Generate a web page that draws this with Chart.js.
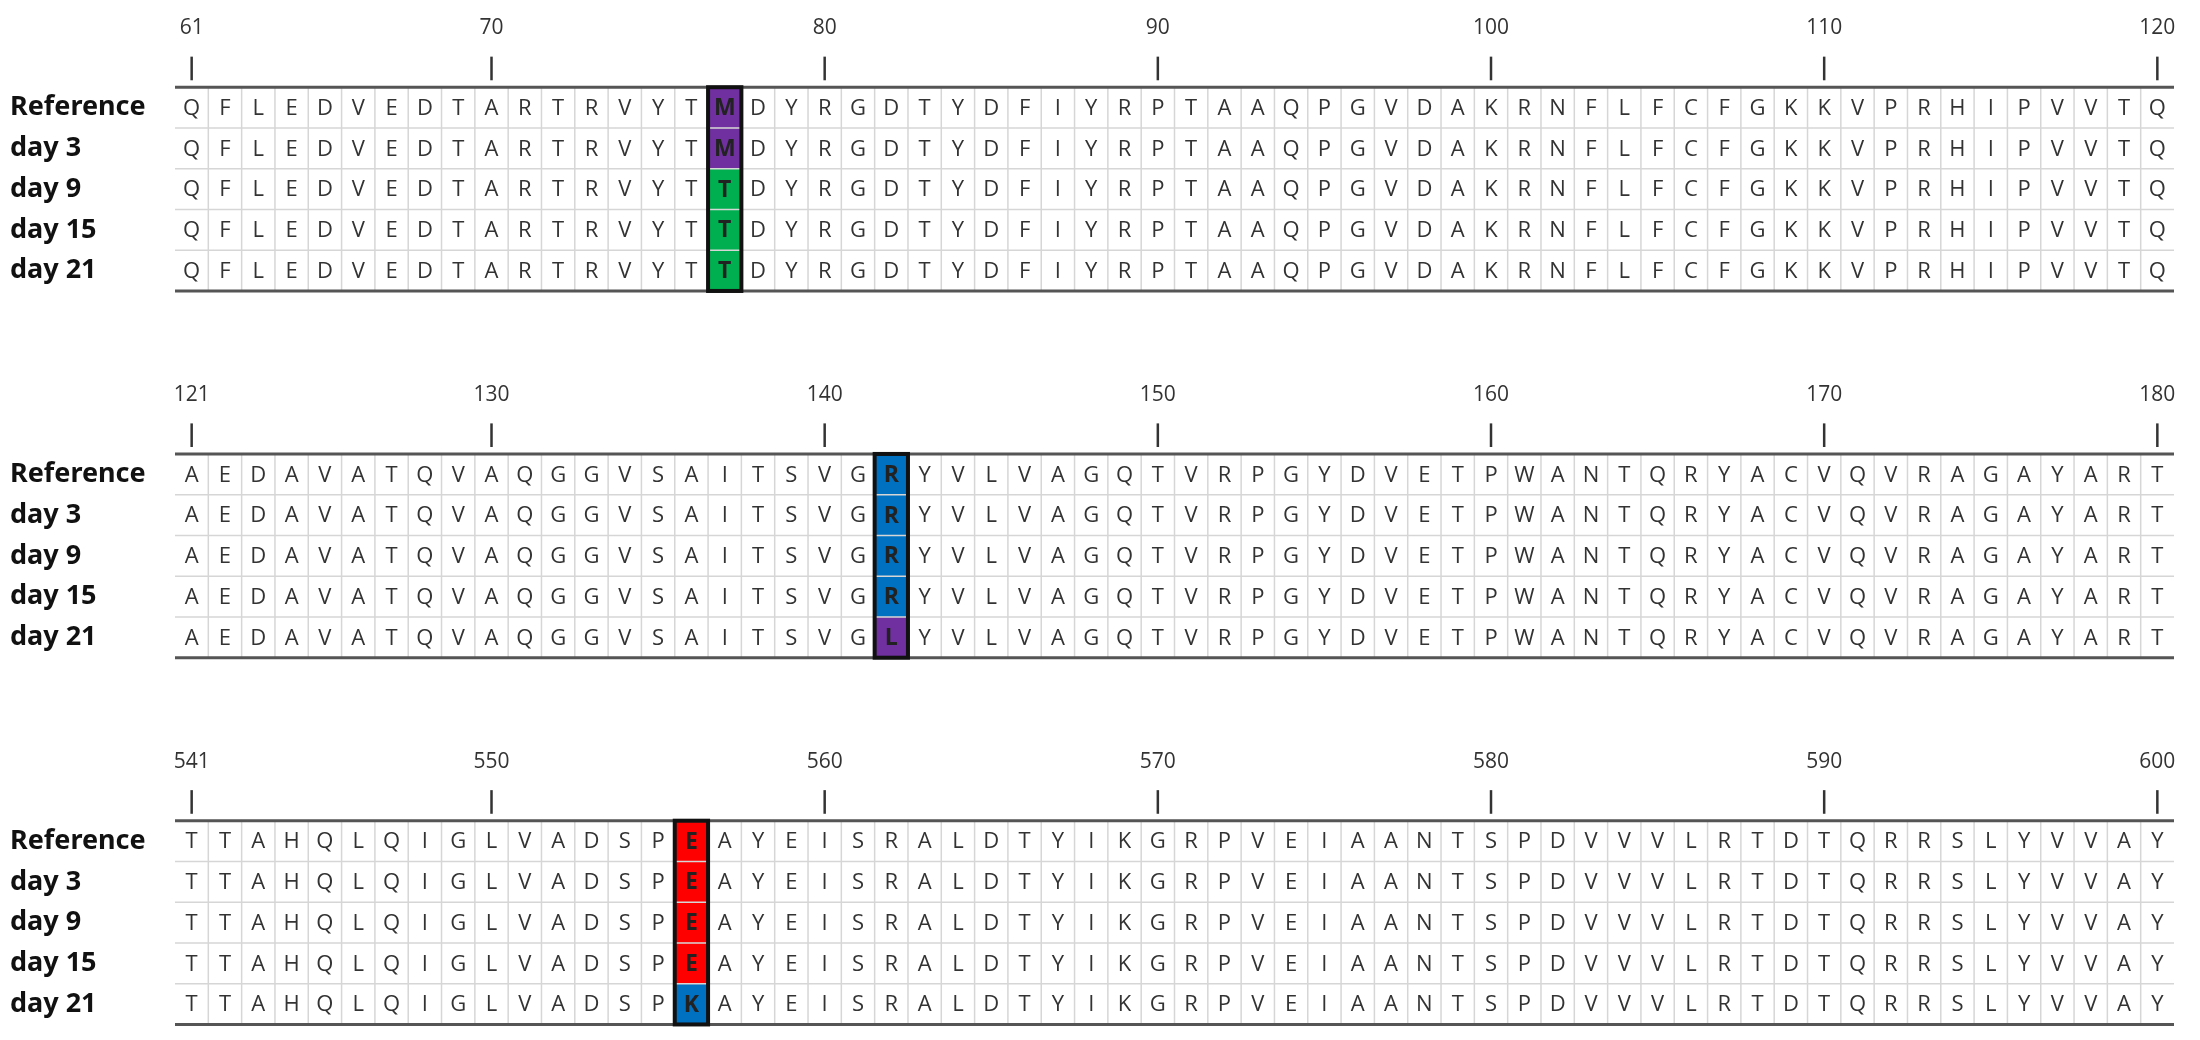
<!DOCTYPE html>
<html>
<head>
<meta charset="utf-8">
<script src="https://cdn.jsdelivr.net/npm/chart.js@4.4.1/dist/chart.umd.min.js"></script>
<style>
  html,body{margin:0;padding:0;background:#fff;}
  #wrap{width:2200px;height:1040px;}
</style>
</head>
<body>
<div id="wrap"><canvas id="seq-chart"></canvas></div>
<script>
// row names
var rowLabels = ['Reference','day 3','day 9','day 15','day 21'];

// first residue number of each block
var blockStarts = [61, 121, 541];

// tick labels of each block
var tickLabels = [
  [61,70,80,90,100,110,120],
  [121,130,140,150,160,170,180],
  [541,550,560,570,580,590,600]
];

// sequences, one per row, per block
var block1 = [
  'QFLEDVEDTARTRVYTMDYRGDTYDFIYRPTAAQPGVDAKRNFLFCFGKKVPRHIPVVTQ',
  'QFLEDVEDTARTRVYTMDYRGDTYDFIYRPTAAQPGVDAKRNFLFCFGKKVPRHIPVVTQ',
  'QFLEDVEDTARTRVYTTDYRGDTYDFIYRPTAAQPGVDAKRNFLFCFGKKVPRHIPVVTQ',
  'QFLEDVEDTARTRVYTTDYRGDTYDFIYRPTAAQPGVDAKRNFLFCFGKKVPRHIPVVTQ',
  'QFLEDVEDTARTRVYTTDYRGDTYDFIYRPTAAQPGVDAKRNFLFCFGKKVPRHIPVVTQ'
];
var block2 = [
  'AEDAVATQVAQGGVSAITSVGRYVLVAGQTVRPGYDVETPWANTQRYACVQVRAGAYART',
  'AEDAVATQVAQGGVSAITSVGRYVLVAGQTVRPGYDVETPWANTQRYACVQVRAGAYART',
  'AEDAVATQVAQGGVSAITSVGRYVLVAGQTVRPGYDVETPWANTQRYACVQVRAGAYART',
  'AEDAVATQVAQGGVSAITSVGRYVLVAGQTVRPGYDVETPWANTQRYACVQVRAGAYART',
  'AEDAVATQVAQGGVSAITSVGLYVLVAGQTVRPGYDVETPWANTQRYACVQVRAGAYART'
];
var block3 = [
  'TTAHQLQIGLVADSPEAYEISRALDTYIKGRPVEIAANTSPDVVVLRTDTQRRSLYVVAY',
  'TTAHQLQIGLVADSPEAYEISRALDTYIKGRPVEIAANTSPDVVVLRTDTQRRSLYVVAY',
  'TTAHQLQIGLVADSPEAYEISRALDTYIKGRPVEIAANTSPDVVVLRTDTQRRSLYVVAY',
  'TTAHQLQIGLVADSPEAYEISRALDTYIKGRPVEIAANTSPDVVVLRTDTQRRSLYVVAY',
  'TTAHQLQIGLVADSPKAYEISRALDTYIKGRPVEIAANTSPDVVVLRTDTQRRSLYVVAY'
];
var blocks = [block1, block2, block3];

// mutated residue position per block
var mutSites = [77, 142, 556];

// colour per amino acid at the mutated sites
var mutColors = {M:'#7030a0', T:'#00b050', R:'#0070c0', L:'#7030a0', E:'#ff0000', K:'#0070c0'};

// layout in scale units: x = residue column, y = row
var blockGap = 9, gridTop = 2.14, cellPx = 40.75;

var seqPlugin = {
  id: 'seqPlugin',
  afterDraw: function(chart){
    var ctx = chart.ctx, xs = chart.scales.x, ys = chart.scales.y;
    ctx.save();
    blocks.forEach(function(rows, b){
      var top = gridTop + b*blockGap;
      var n = rows[0].length;
      var x0 = xs.getPixelForValue(0), x1 = xs.getPixelForValue(n);
      var mc = mutSites[b] - blockStarts[b];
      // coloured cells
      rows.forEach(function(seq, r){
        var aa = seq[mc];
        ctx.fillStyle = mutColors[aa];
        var ya = ys.getPixelForValue(top + r), yb = ys.getPixelForValue(top + r + 1);
        ctx.fillRect(xs.getPixelForValue(mc), ya, xs.getPixelForValue(mc+1)-xs.getPixelForValue(mc), yb-ya);
      });
      // thin grid
      ctx.strokeStyle = '#d6d6d6'; ctx.lineWidth = 1.5;
      for (var c = 1; c < n; c++){
        var xp = xs.getPixelForValue(c);
        ctx.beginPath(); ctx.moveTo(xp, ys.getPixelForValue(top)); ctx.lineTo(xp, ys.getPixelForValue(top+rows.length)); ctx.stroke();
      }
      for (var r = 1; r < rows.length; r++){
        var yp = ys.getPixelForValue(top + r);
        ctx.beginPath(); ctx.moveTo(x0, yp); ctx.lineTo(x1, yp); ctx.stroke();
      }
      // top and bottom rules
      ctx.strokeStyle = '#555'; ctx.lineWidth = 3;
      [top, top + rows.length].forEach(function(v){
        var yp = ys.getPixelForValue(v);
        ctx.beginPath(); ctx.moveTo(x0, yp); ctx.lineTo(x1, yp); ctx.stroke();
      });
      // residues
      ctx.textAlign = 'center'; ctx.textBaseline = 'middle';
      rows.forEach(function(seq, r){
        var yc = ys.getPixelForValue(top + r + 0.5);
        for (var c = 0; c < seq.length; c++){
          var xc = xs.getPixelForValue(c + 0.5);
          if (c === mc){ ctx.font = 'bold 23px "Open Sans"'; ctx.fillStyle = '#222'; }
          else { ctx.font = '22px "Open Sans"'; ctx.fillStyle = '#333'; }
          ctx.fillText(seq[c], xc, yc + 1);
        }
        // row label
        ctx.textAlign = 'left'; ctx.font = 'bold 27px "Noto Sans"'; ctx.fillStyle = '#111';
        ctx.fillText(rowLabels[r], 10, yc);
        ctx.textAlign = 'center';
      });
      // black box around mutated column
      ctx.strokeStyle = '#111'; ctx.lineWidth = 4;
      var bx = xs.getPixelForValue(mc), bw = xs.getPixelForValue(mc+1) - bx;
      var by = ys.getPixelForValue(top), bh = ys.getPixelForValue(top + rows.length) - by;
      ctx.strokeRect(bx, by, bw, bh);
      // position ticks and labels
      ctx.strokeStyle = '#333'; ctx.lineWidth = 2.5;
      ctx.fillStyle = '#333'; ctx.font = '21px "Open Sans"';
      tickLabels[b].forEach(function(t){
        var xc = xs.getPixelForValue(t - blockStarts[b] + 0.5);
        ctx.beginPath();
        ctx.moveTo(xc, ys.getPixelForValue(top - 0.75));
        ctx.lineTo(xc, ys.getPixelForValue(top - 0.17));
        ctx.stroke();
        ctx.fillText(String(t), xc, ys.getPixelForValue(top - 1.45));
      });
    });
    ctx.restore();
  }
};

var W = 2200, H = 1040, gridLeft = 175, gridRight = 2174, nCols = 60;
var unit = (gridRight - gridLeft) / nCols;

new Chart(document.getElementById('seq-chart').getContext('2d'), {
  type: 'scatter',
  data: { datasets: [{ data: [], pointRadius: 0 }] },
  options: {
    responsive: true,
    maintainAspectRatio: false,
    animation: false,
    layout: { padding: 0 },
    plugins: { legend: { display: false }, tooltip: { enabled: false } },
    scales: {
      x: { type: 'linear', display: false, min: -gridLeft/unit, max: nCols + (W - gridRight)/unit },
      y: { type: 'linear', display: false, reverse: true, min: 0, max: H / cellPx }
    }
  },
  plugins: [seqPlugin]
});
</script>
</body>
</html>
